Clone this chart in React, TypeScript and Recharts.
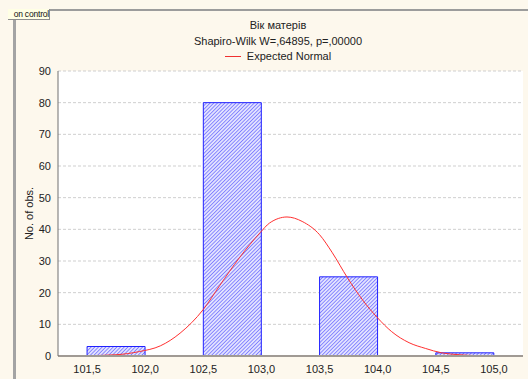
import React from 'react';
import {
  ComposedChart,
  Bar,
  Line,
  XAxis,
  YAxis,
  CartesianGrid,
} from 'recharts';

// 0.5-wide classes from 101,5 to 105,0 and observed counts
const classLabels = ['101,5-102,0', '102,0-102,5', '102,5-103,0', '103,0-103,5', '103,5-104,0', '104,0-104,5', '104,5-105,0'];
const classCounts = [3, 0, 80, 0, 25, 0, 1];

// expected normal curve, sampled along the axis
const normalX = [
  101.5, 101.75, 101.95, 102.13, 102.3, 102.5, 102.64, 102.81, 102.99, 103.07,
  103.22, 103.35, 103.5, 103.61, 103.74, 103.87, 104.0, 104.12, 104.27, 104.41,
  104.55, 104.7, 104.87,
];
const normalY = [
  0.1, 0.4, 1.4, 3.2, 7.2, 14.7, 22.2, 31, 39, 42, 43.9, 42.5, 38.3, 32.6, 24.7,
  17.7, 12.0, 7.7, 4.2, 2.4, 1.0, 0.4, 0.1,
];

const xTicks = [101.5, 102.0, 102.5, 103.0, 103.5, 104.0, 104.5, 105.0];
const yTicks = [0, 10, 20, 30, 40, 50, 60, 70, 80, 90];

const title = 'Вік матерів';
const subtitle = 'Shapiro-Wilk W=,64895, p=,00000';
const legendLabel = 'Expected Normal';

const W = 528;
const H = 379;
const FONT = '"Liberation Sans", Arial, sans-serif';

const classRows = classLabels.map((label, i) => ({ label, count: classCounts[i] || null }));
const curveRows = normalX.map((x, i) => ({ x, normal: normalY[i] }));

const xDomain: [number, number] = [101.25, 105.25];
const plotLeft = 58;
const plotRight = 523;
// the class axis leaves a quarter unit of room on each side
const sidePad = ((plotRight - plotLeft) / (xDomain[1] - xDomain[0])) * 0.25;

const fmt = (v: number) => v.toFixed(1).replace('.', ',');

export default function App() {
  return (
    <div
      style={{
        position: 'absolute',
        left: 0,
        top: 0,
        width: W,
        height: H,
        background: '#fdf8ed',
        overflow: 'hidden',
        fontFamily: FONT,
      }}
    >
      {/* window frame */}
      <div
        style={{
          position: 'absolute',
          left: 13,
          top: 9,
          width: W,
          height: H,
          borderTop: '2px solid #9c9c9c',
          borderLeft: '3px solid #a4a4a4',
        }}
      />
      <div
        style={{
          position: 'absolute',
          left: 8,
          top: 9,
          width: 41,
          height: 10,
          background: '#ffffe4',
          borderRight: '1px solid #8c8c8c',
          borderBottom: '1px solid #8c8c8c',
          fontSize: 8.5,
          lineHeight: '10px',
          color: '#111',
          whiteSpace: 'nowrap',
          textAlign: 'right',
          letterSpacing: -0.2,
        }}
      >
        on control
      </div>

      {/* titles and legend */}
      <div
        style={{
          position: 'absolute',
          left: 0,
          width: 556,
          top: 18,
          textAlign: 'center',
          fontSize: 11,
          lineHeight: '15.5px',
          color: '#222',
        }}
      >
        <div>{title}</div>
        <div>{subtitle}</div>
        <div style={{ display: 'flex', justifyContent: 'center', alignItems: 'center' }}>
          <span
            style={{
              display: 'inline-block',
              width: 16,
              height: 1,
              background: '#f03030',
              marginRight: 6,
            }}
          />
          {legendLabel}
        </div>
      </div>

      <div style={{ position: 'absolute', left: 0, top: 0 }}>
        <ComposedChart
          width={W}
          height={H}
          data={classRows}
          barCategoryGap={0}
          margin={{ top: 71, right: W - plotRight, left: 14, bottom: 3 }}
        >
          <defs>
            <pattern
              id="hatch"
              width="2.6"
              height="2.6"
              patternUnits="userSpaceOnUse"
              patternTransform="rotate(45)"
            >
              <rect width="2.6" height="2.6" fill="#e2e2ff" />
              <line x1="0" y1="0" x2="0" y2="2.6" stroke="#5c5cff" strokeWidth="1.3" />
            </pattern>
          </defs>
          <CartesianGrid
            horizontal
            vertical={false}
            fill="#ffffff"
            stroke="#cfcfcf"
            strokeDasharray="3 2"
          />
          <XAxis
            type="number"
            dataKey="x"
            domain={xDomain}
            ticks={xTicks}
            tickFormatter={fmt}
            allowDataOverflow
            height={20}
            tickSize={0}
            tickMargin={9}
            axisLine={{ stroke: '#a09a94', strokeWidth: 2 }}
            tick={{ fill: '#222', fontSize: 11, fontFamily: FONT }}
          />
          <XAxis
            xAxisId="classes"
            type="category"
            dataKey="label"
            padding={{ left: sidePad, right: sidePad }}
            hide
          />
          <XAxis
            xAxisId="top"
            orientation="top"
            type="number"
            domain={xDomain}
            height={0}
            tick={false}
            tickLine={false}
            axisLine={{ stroke: '#9a9a9a' }}
          />
          <YAxis
            domain={[0, 90]}
            ticks={yTicks}
            width={44}
            tickSize={0}
            tickMargin={7}
            axisLine={{ stroke: '#707070' }}
            tick={{ fill: '#222', fontSize: 11, fontFamily: FONT }}
            label={{
              value: 'No. of obs.',
              angle: -90,
              position: 'insideLeft',
              dx: 10,
              style: { fill: '#222', fontSize: 11, fontFamily: FONT, textAnchor: 'middle' },
            }}
          />
          <YAxis
            yAxisId="right"
            orientation="right"
            domain={[0, 90]}
            width={0}
            tick={false}
            tickLine={false}
            axisLine={{ stroke: '#8c8c8c', strokeWidth: 2 }}
          />
          <Bar
            xAxisId="classes"
            dataKey="count"
            fill="url(#hatch)"
            stroke="#2020ff"
            strokeWidth={1}
            isAnimationActive={false}
          />
          <Line
            data={curveRows}
            dataKey="normal"
            type="monotone"
            stroke="#ff3030"
            strokeWidth={1}
            dot={false}
            isAnimationActive={false}
          />
        </ComposedChart>
      </div>
    </div>
  );
}
